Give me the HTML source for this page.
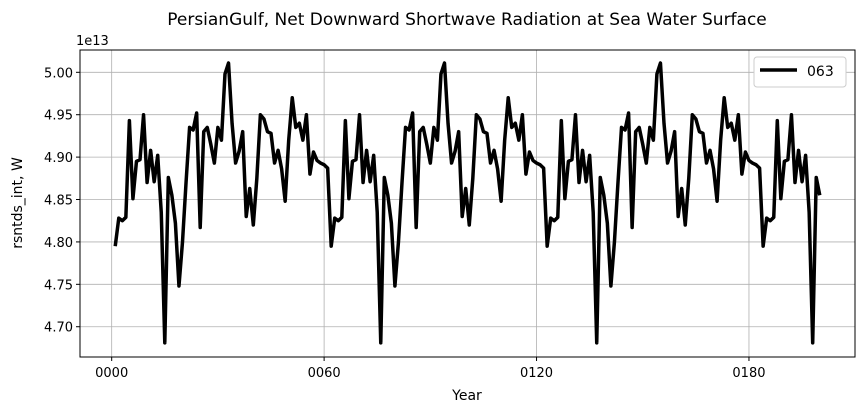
<!DOCTYPE html>
<html><head><meta charset="utf-8"><style>
body{margin:0;background:#fff;}
svg text{font-family:"DejaVu Sans","Liberation Sans",sans-serif;fill:#000;}
</style></head><body>
<svg id="chart" width="863" height="412" xmlns="http://www.w3.org/2000/svg">
<rect width="863" height="412" fill="#fff"/>
<text x="467" y="25" font-size="17" text-anchor="middle">PersianGulf, Net Downward Shortwave Radiation at Sea Water Surface</text>
<text x="76" y="45" font-size="13">1e13</text>
<text transform="translate(22,203) rotate(-90)" font-size="14" text-anchor="middle">rsntds_int, W</text>
<text x="467" y="400" font-size="14" text-anchor="middle">Year</text>
<g id="grid"></g><g id="ticks"></g><g id="series"></g>
<rect x="80" y="50" width="775" height="307" fill="none" stroke="#000" stroke-width="1"/>
<g>
<rect x="754" y="57" width="92" height="30" rx="3" fill="#fff" stroke="#ccc"/>
<line x1="760" y1="70" x2="797" y2="70" stroke="#000" stroke-width="3.5"/>
<text x="807" y="76" font-size="14">063</text>
</g>
</svg>
<script>
const years = Array.from({length:200},(_,i)=>i+1);
const values = [
4.795,4.828,4.825,4.829,4.943,4.851,4.895,4.897,4.950,4.870,4.908,4.871,4.902,4.835,4.681,4.876,4.855,4.822,4.748,4.800,4.870,4.935,4.932,4.952,4.817,4.930,4.935,4.915,4.893,4.935,4.920,4.998,5.011,4.940,4.893,4.907,4.930,4.830,4.863,4.820,4.875,4.950,4.945,4.930,4.928,4.893,4.908,4.886,4.848,4.920,4.970,4.935,4.940,4.920,4.950,4.880,4.906,4.896,4.893,4.891,4.887,
4.795,4.828,4.825,4.829,4.943,4.851,4.895,4.897,4.950,4.870,4.908,4.871,4.902,4.835,4.681,4.876,4.855,4.822,4.748,4.800,4.870,4.935,4.932,4.952,4.817,4.930,4.935,4.915,4.893,4.935,4.920,4.998,5.011,4.940,4.893,4.907,4.930,4.830,4.863,4.820,4.875,4.950,4.945,4.930,4.928,4.893,4.908,4.886,4.848,4.920,4.970,4.935,4.940,4.920,4.950,4.880,4.906,4.896,4.893,4.891,4.887,
4.795,4.828,4.825,4.829,4.943,4.851,4.895,4.897,4.950,4.870,4.908,4.871,4.902,4.835,4.681,4.876,4.855,4.822,4.748,4.800,4.870,4.935,4.932,4.952,4.817,4.930,4.935,4.915,4.893,4.935,4.920,4.998,5.011,4.940,4.893,4.907,4.930,4.830,4.863,4.820,4.875,4.950,4.945,4.930,4.928,4.893,4.908,4.886,4.848,4.920,4.970,4.935,4.940,4.920,4.950,4.880,4.906,4.896,4.893,4.891,4.887,
4.795,4.828,4.825,4.829,4.943,4.851,4.895,4.897,4.950,4.870,4.908,4.871,4.902,4.835,4.681,4.876,4.855
];
const xTicks = [0,60,120,180];
const xTickLabels = ["0000","0060","0120","0180"];
const yTicks = [4.70,4.75,4.80,4.85,4.90,4.95,5.00];
const yTickLabels = ["4.70","4.75","4.80","4.85","4.90","4.95","5.00"];

const L=80,R=855,T=50,B=357;
const xMin=-8.95,xMax=209.95,yMin=4.6643,yMax=5.0263;
const sx=v=>L+(v-xMin)/(xMax-xMin)*(R-L);
const sy=v=>B-(v-yMin)/(yMax-yMin)*(B-T);
const NS="http://www.w3.org/2000/svg";
function mk(tag,attrs,parent){const e=document.createElementNS(NS,tag);for(const k in attrs)e.setAttribute(k,attrs[k]);parent.appendChild(e);return e;}
const grid=document.getElementById('grid'),ticks=document.getElementById('ticks'),series=document.getElementById('series');
xTicks.forEach((t,i)=>{
  const x=sx(t);
  const g=mk('line',{x1:x,x2:x,y1:T,y2:B,stroke:'#b0b0b0','stroke-width':0.8},grid);
  
  
  mk('line',{x1:x,x2:x,y1:B,y2:B+4,stroke:'#000'},ticks);
  const tx=mk('text',{x:x,y:B+20,'font-size':13,'text-anchor':'middle'},ticks);
  tx.textContent=xTickLabels[i];
  
  
});
yTicks.forEach((t,i)=>{
  const y=sy(t);
  const g=mk('line',{x1:L,x2:R,y1:y,y2:y,stroke:'#b0b0b0','stroke-width':0.8},grid);
  
  
  mk('line',{x1:L-4,x2:L,y1:y,y2:y,stroke:'#000'},ticks);
  const tx=mk('text',{x:L-7,y:y+5,'font-size':13,'text-anchor':'end'},ticks);
  tx.textContent=yTickLabels[i];
  
  
});
const pts=values.map((v,i)=>sx(years[i]).toFixed(2)+','+sy(v).toFixed(2)).join(' ');
const line=mk('polyline',{points:pts,fill:'none',stroke:'#000','stroke-width':3.5,'stroke-linejoin':'round'},series);


</script>
</body></html>
